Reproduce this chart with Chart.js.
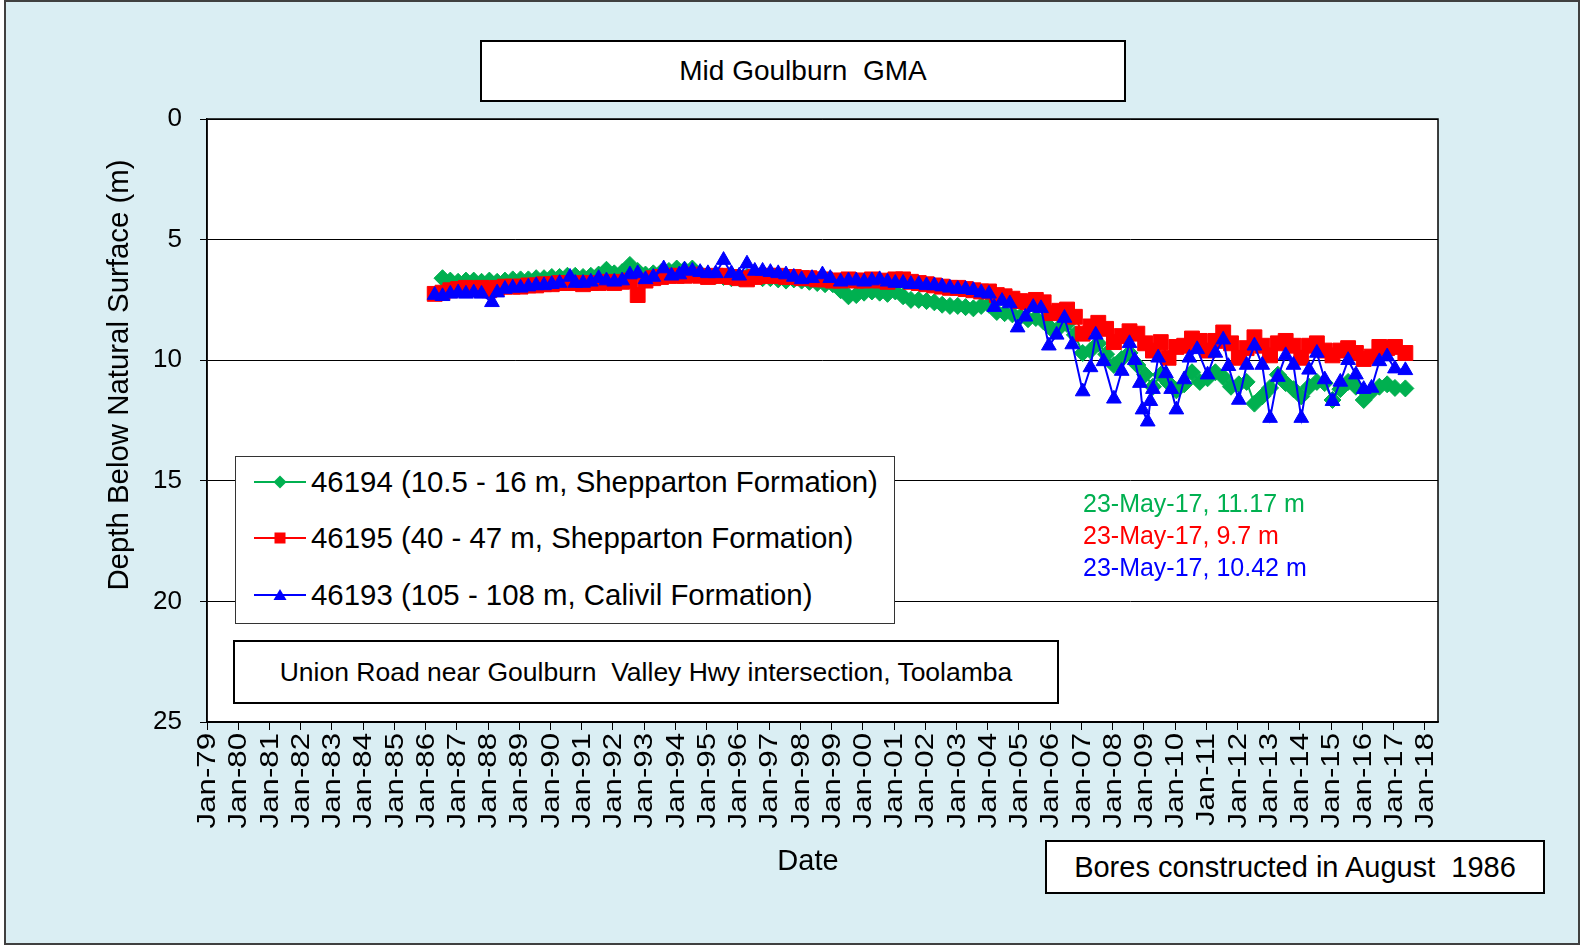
<!DOCTYPE html>
<html>
<head>
<meta charset="utf-8">
<title>Mid Goulburn GMA</title>
<script src="https://cdn.jsdelivr.net/npm/chart.js@4.4.0/dist/chart.umd.min.js"></script>
<style>
  body { margin: 0; background: #fff; font-family: "Liberation Sans", Arial, sans-serif; }
  #wrap { position: relative; width: 1580px; height: 945px; overflow: hidden; }
  #frame { position: absolute; left: 4px; top: 0; width: 1576px; height: 945px; box-sizing: border-box;
           background: #DAEEF3; border: 2px solid #404040; }
  canvas { position: absolute; left: 0; top: 0; }
  .box { position: absolute; box-sizing: border-box; background: #fff; border: 2px solid #000;
         text-align: center; color: #000; white-space: pre; }
  .lbl { position: absolute; white-space: pre; color: #000; }
  #legend { white-space: normal; text-align: left; border: 1px solid #333; }
  .row { position: absolute; left: 0; width: 100%; height: 40px; line-height: 40px; font-size: 29.4px; white-space: nowrap; }
  .row svg { position: absolute; left: 18px; top: 10px; }
  .row span { position: absolute; left: 75px; top: 0; }
</style>
</head>
<body>
<div id="wrap">
  <div id="frame"></div>
  <canvas id="chart" width="1580" height="945"></canvas>

  <div class="box" style="left:480px; top:40px; width:646px; height:62px; line-height:58px; font-size:28px;">Mid Goulburn  GMA</div>

  <div class="box" id="legend" style="left:235px; top:456px; width:660px; height:168px;">
    <div class="row" style="top:5px;"><svg width="52" height="20"><line x1="0" y1="10" x2="52" y2="10" stroke="#00B050" stroke-width="2"/><polygon points="26,3.5 32.5,10 26,16.5 19.5,10" fill="#00B050"/></svg><span>46194 (10.5 - 16 m, Shepparton Formation)</span></div>
    <div class="row" style="top:61px;"><svg width="52" height="20"><line x1="0" y1="10" x2="52" y2="10" stroke="#FF0000" stroke-width="2"/><rect x="20.5" y="4.5" width="11" height="11" fill="#FF0000"/></svg><span>46195 (40 - 47 m, Shepparton Formation)</span></div>
    <div class="row" style="top:118px;"><svg width="52" height="20"><line x1="0" y1="10" x2="52" y2="10" stroke="#0000FF" stroke-width="2"/><polygon points="26,4 32.5,15 19.5,15" fill="#0000FF"/></svg><span>46193 (105 - 108 m, Calivil Formation)</span></div>
  </div>

  <div class="box" style="left:233px; top:640px; width:826px; height:64px; line-height:60px; font-size:26.5px;">Union Road near Goulburn  Valley Hwy intersection, Toolamba</div>
  <div class="box" style="left:1045px; top:840px; width:500px; height:54px; line-height:50px; font-size:29px;">Bores constructed in August  1986</div>

  <div class="lbl" style="left:1083px; top:487px; line-height:32px; font-size:25px; color:#00B050;">23-May-17, 11.17 m</div>
  <div class="lbl" style="left:1083px; top:519px; line-height:32px; font-size:25px; color:#FF0000;">23-May-17, 9.7 m</div>
  <div class="lbl" style="left:1083px; top:551px; line-height:32px; font-size:25px; color:#0000FF;">23-May-17, 10.42 m</div>

  <div class="lbl" style="left:708px; top:843px; width:200px; line-height:34px; font-size:29px; text-align:center;">Date</div>
  <div class="lbl" style="left:-132px; top:358px; width:500px; line-height:34px; font-size:29.4px; text-align:center; transform:rotate(-90deg);">Depth Below Natural Surface (m)</div>
</div>

<script>
"use strict";

// x axis ticks (years, shown as Jan-YY)
const years = [1979, 1980, 1981, 1982, 1983, 1984, 1985, 1986, 1987, 1988,
  1989, 1990, 1991, 1992, 1993, 1994, 1995, 1996, 1997, 1998,
  1999, 2000, 2001, 2002, 2003, 2004, 2005, 2006, 2007, 2008,
  2009, 2010, 2011, 2012, 2013, 2014, 2015, 2016, 2017, 2018];
const depthTicks = [0, 5, 10, 15, 20, 25];

// quarterly readings, 46195 and 46194
const qDates = [
  "1986-04", "1986-07", "1986-10",
  "1987-01", "1987-04", "1987-07", "1987-10",
  "1988-01", "1988-04", "1988-07", "1988-10",
  "1989-01", "1989-04", "1989-07", "1989-10",
  "1990-01", "1990-04", "1990-07", "1990-10",
  "1991-01", "1991-04", "1991-07", "1991-10",
  "1992-01", "1992-04", "1992-07", "1992-10",
  "1993-01", "1993-04", "1993-07", "1993-10",
  "1994-01", "1994-04", "1994-07", "1994-10",
  "1995-01", "1995-04", "1995-07", "1995-10",
  "1996-01", "1996-04", "1996-07", "1996-10",
  "1997-01", "1997-04", "1997-07", "1997-10",
  "1998-01", "1998-04", "1998-07", "1998-10",
  "1999-01", "1999-04", "1999-07", "1999-10",
  "2000-01", "2000-04", "2000-07", "2000-10",
  "2001-01", "2001-04", "2001-07", "2001-10",
  "2002-01", "2002-04", "2002-07", "2002-10",
  "2003-01", "2003-04", "2003-07", "2003-10",
  "2004-01", "2004-04", "2004-07", "2004-10",
  "2005-01", "2005-04", "2005-07", "2005-10",
  "2006-01", "2006-04", "2006-07", "2006-10",
  "2007-01", "2007-04", "2007-07", "2007-10",
  "2008-01", "2008-04", "2008-07", "2008-10",
  "2009-01", "2009-04", "2009-07", "2009-10",
  "2010-01", "2010-04", "2010-07", "2010-10",
  "2011-01", "2011-04", "2011-07", "2011-10",
  "2012-01", "2012-04", "2012-07", "2012-10",
  "2013-01", "2013-04", "2013-07", "2013-10",
  "2014-01", "2014-04", "2014-07", "2014-10",
  "2015-01", "2015-04", "2015-07", "2015-10",
  "2016-01", "2016-04", "2016-07", "2016-10",
  "2017-01", "2017-05"
];

const bore46194 = [
  null, 6.6, 6.7,
  6.75, 6.7, 6.7, 6.75,
  6.7, 6.75, 6.7, 6.65,
  6.65, 6.65, 6.6, 6.6,
  6.55, 6.55, 6.5, 6.5,
  6.55, 6.5, 6.45, 6.25,
  6.4, 6.35, 6.05, 6.3,
  6.45, 6.4, 6.35, 6.3,
  6.2, 6.25, 6.2, 6.4,
  6.45, 6.5, 6.55, 6.6,
  6.6, 6.55, 6.5, 6.6,
  6.6, 6.65, 6.7, 6.65,
  6.7, 6.75, 6.8, 6.85,
  6.85, 7.1, 7.35, 7.3,
  7.2, 7.15, 7.2, 7.25,
  7.15, 7.35, 7.5, 7.5,
  7.55, 7.6, 7.7, 7.75,
  7.75, 7.8, 7.85, 7.75,
  7.7, 8.0, 8.05, 8.1,
  8.2, 8.3, 8.25, 8.4,
  8.7, 8.65, 8.5, 8.95,
  9.7, 9.6, 9.3, 9.75,
  10.2, 9.95, 9.7, 10.2,
  10.6, 11.1, 10.6, 10.95,
  11.25, 11.0, 10.5, 10.9,
  10.75, 10.5, 10.7, 11.1,
  11.0, 10.9, 11.8, 11.5,
  11.15, 10.6, 10.95, 11.2,
  11.5, 11.1, 10.9, 10.95,
  11.65, 11.2, 10.9, 11.1,
  11.65, 11.3, 11.1, 11.0,
  11.15, 11.17
];

const bore46195 = [
  7.25, 7.2, 7.1,
  7.05, 7.0, 7.05, 7.0,
  7.1, 7.0, 6.95, 6.95,
  6.95, 6.9, 6.9, 6.85,
  6.85, 6.8, 6.8, 6.8,
  6.85, 6.8, 6.8, 6.75,
  6.8, 6.75, 6.7, 7.3,
  6.7, 6.6, 6.55, 6.5,
  6.5, 6.5, 6.45, 6.5,
  6.55, 6.5, 6.5, 6.55,
  6.6, 6.65, 6.55, 6.5,
  6.5, 6.5, 6.55, 6.55,
  6.6, 6.6, 6.65, 6.65,
  6.7, 6.7, 6.65, 6.7,
  6.7, 6.65, 6.7, 6.75,
  6.65, 6.65, 6.75, 6.8,
  6.85, 6.9, 6.95, 7.0,
  7.0, 7.05, 7.1, 7.15,
  7.15, 7.3, 7.35, 7.45,
  7.55, 7.6, 7.5, 7.6,
  8.05, 7.95, 7.9, 8.2,
  8.9, 8.6, 8.45, 8.7,
  9.25, 9.0, 8.8, 8.9,
  9.3, 9.6, 9.25, 9.9,
  9.45, 9.4, 9.1, 9.2,
  9.6, 9.2, 8.85, 9.3,
  9.9, 9.5, 9.05, 9.4,
  9.8, 9.3, 9.2, 9.4,
  9.9, 9.4, 9.3, 9.6,
  9.8, 9.6, 9.5, 9.7,
  9.95, 9.85, 9.45, 9.5,
  9.45, 9.7
];

// 46193 readings
const blueDates = [
  "1986-04", "1986-07", "1986-10",
  "1987-01", "1987-04", "1987-07", "1987-10",
  "1988-02", "1988-04", "1988-07", "1988-10",
  "1989-01", "1989-04", "1989-07", "1989-10",
  "1990-01", "1990-04", "1990-08", "1990-10",
  "1991-01", "1991-04", "1991-07", "1991-10",
  "1992-01", "1992-04", "1992-07", "1992-10",
  "1993-01", "1993-04", "1993-08", "1993-11",
  "1994-02", "1994-04", "1994-07", "1994-10",
  "1995-01", "1995-04", "1995-07", "1995-10",
  "1996-01", "1996-04", "1996-07", "1996-10",
  "1997-01", "1997-04", "1997-07", "1997-10",
  "1998-01", "1998-05", "1998-09", "1998-12",
  "1999-04", "1999-07", "1999-10",
  "2000-01", "2000-04", "2000-07", "2000-10",
  "2001-01", "2001-04", "2001-07", "2001-10",
  "2002-01", "2002-04", "2002-07", "2002-10",
  "2003-01", "2003-04", "2003-07", "2003-10",
  "2004-01", "2004-03", "2004-06", "2004-09",
  "2004-12", "2005-03", "2005-06", "2005-09",
  "2005-12", "2006-03", "2006-06", "2006-09",
  "2007-01", "2007-04", "2007-06", "2007-09",
  "2008-01", "2008-04", "2008-07", "2008-09", "2008-11", "2008-12",
  "2009-02", "2009-03", "2009-04", "2009-06", "2009-09", "2009-11",
  "2010-01", "2010-04", "2010-06", "2010-09",
  "2011-01", "2011-04", "2011-07", "2011-09",
  "2012-01", "2012-04", "2012-07", "2012-10",
  "2013-01", "2013-04", "2013-07", "2013-10",
  "2014-01", "2014-04", "2014-07", "2014-10",
  "2015-01", "2015-04", "2015-07", "2015-10",
  "2016-01", "2016-04", "2016-07", "2016-10",
  "2017-01", "2017-05"
];

const bore46193 = [
  7.3, 7.35, 7.25,
  7.2, 7.25, 7.2, 7.25,
  7.6, 7.2, 7.05, 7.0,
  7.0, 6.95, 6.9, 6.9,
  6.85, 6.8, 6.55, 6.8,
  6.8, 6.75, 6.6, 6.7,
  6.75, 6.7, 6.45, 6.4,
  6.65, 6.55, 6.2, 6.5,
  6.45, 6.25, 6.3, 6.35,
  6.4, 6.4, 5.85, 6.4,
  6.5, 6.0, 6.3, 6.3,
  6.35, 6.4, 6.45, 6.55,
  6.65, 6.6, 6.45, 6.6,
  6.75, 6.7, 6.7,
  6.75, 6.7, 6.65, 6.75,
  6.8, 6.8, 6.85, 6.85,
  6.9, 6.9, 6.95, 7.0,
  7.05, 7.05, 7.1, 7.2,
  7.25, 7.8, 7.55, 7.65,
  8.65, 8.2, 7.8, 7.85,
  9.4, 8.95, 8.25, 9.35,
  11.3, 10.3, 8.95, 10.05,
  11.6, 10.45, 9.3, 10.0, 10.95, 12.05,
  12.55, 11.7, 11.2, 9.9, 10.55, 11.2,
  12.05, 10.8, 9.9, 9.55,
  10.6, 9.7, 9.15, 10.25,
  11.65, 10.2, 9.4, 10.2,
  12.4, 10.7, 9.8, 10.2,
  12.4, 10.4, 9.7, 10.8,
  11.7, 10.9, 10.0, 10.6,
  11.2, 11.15, 10.05, 9.85,
  10.35, 10.42
];

const FONT = '"Liberation Sans", Arial, sans-serif';

// "YYYY-MM" -> decimal year (middle of the month)
function toYear(s) {
  const [y, m] = s.split("-").map(Number);
  return y + (m - 0.5) / 12;
}

function points(dates, depths) {
  return dates.map((d, i) => ({ x: toYear(d), y: depths[i] }));
}

function yearLabel(v) {
  return "Jan-" + String(v % 100).padStart(2, "0");
}

//white plot area, box round it, and the stretched date labels
const plotFrame = {
  id: "plotFrame",
  beforeDraw(chart) {
    const { ctx, chartArea: a } = chart;
    ctx.save();
    ctx.fillStyle = "#fff";
    ctx.fillRect(a.left, a.top, a.right - a.left, a.bottom - a.top);
    ctx.restore();
  },
  afterDraw(chart) {
    const { ctx, chartArea: a } = chart;
    const xs = chart.scales.x;
    ctx.save();
    ctx.strokeStyle = "#000";
    ctx.lineWidth = 1.5;
    ctx.strokeRect(a.left, a.top, a.right - a.left, a.bottom - a.top);

    ctx.fillStyle = "#000";
    ctx.font = "26px " + FONT;
    ctx.textAlign = "right";
    ctx.textBaseline = "middle";
    years.forEach((v) => {
      ctx.save();
      ctx.translate(xs.getPixelForValue(v) + 1, a.bottom + 11);
      ctx.rotate(-Math.PI / 2);
      ctx.scale(1.2, 1);
      ctx.fillText(yearLabel(v), 0, 0);
      ctx.restore();
    });
    ctx.restore();
  },
};

function series(label, data, color, style, radius, order) {
  return {
    label,
    data,
    borderColor: color,
    backgroundColor: color,
    borderWidth: 2,
    pointStyle: style,
    pointRadius: radius,
    pointBorderWidth: 1,
    pointBackgroundColor: color,
    pointBorderColor: color,
    order,
  };
}

new Chart(document.getElementById("chart"), {
  type: "line",
  data: {
    datasets: [
      series("46194 (10.5 - 16 m, Shepparton Formation)", points(qDates, bore46194), "#00B050", "rectRot", 8.5, 3),
      series("46195 (40 - 47 m, Shepparton Formation)", points(qDates, bore46195), "#FF0000", "rect", 10.5, 2),
      series("46193 (105 - 108 m, Calivil Formation)", points(blueDates, bore46193), "#0000FF", "triangle", 8.5, 1),
    ],
  },
  options: {
    responsive: false,
    animation: false,
    devicePixelRatio: 1,
    layout: { padding: { left: 0, top: 119, right: 142, bottom: 0 } },
    plugins: {
      legend: { display: false },
      tooltip: { enabled: false },
    },
    scales: {
      x: {
        type: "linear",
        min: 1979,
        max: 2018.42,
        afterBuildTicks: (s) => { s.ticks = years.map((v) => ({ value: v })); },
        afterFit: (s) => { s.height = 223; },
        ticks: { display: false },
        grid: { drawOnChartArea: false, drawTicks: true, tickLength: 8, color: "#000" },
        border: { color: "#000", width: 1.5 },
      },
      y: {
        type: "linear",
        reverse: true,
        min: 0,
        max: 25,
        afterBuildTicks: (s) => { s.ticks = depthTicks.map((v) => ({ value: v })); },
        afterFit: (s) => { s.width = 207; },
        ticks: {
          padding: 18,
          color: "#000",
          font: { family: FONT, size: 26 },
        },
        grid: { color: "#000", lineWidth: 1, tickLength: 7 },
        border: { color: "#000", width: 1.5 },
      },
    },
  },
  plugins: [plotFrame],
});
</script>
</body>
</html>
